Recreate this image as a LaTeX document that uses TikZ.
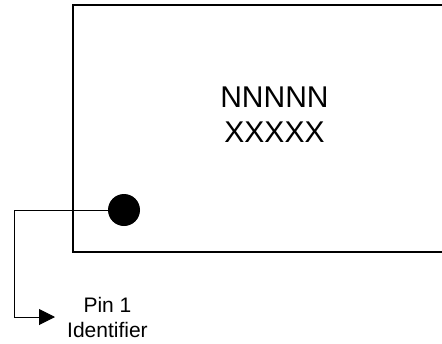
\documentclass[tikz,border=0pt]{standalone}
\usepackage{fontspec}
\setmainfont{Liberation Sans}
\usetikzlibrary{positioning, arrows.meta}

\begin{document}
\begin{tikzpicture}[x = 1pt, y = -1pt,
    every node/.style = { align = center, inner sep = 0pt },
    body/.style = { draw, line width = 2pt },
    lead/.style = { draw, line width = 1pt },
    dot/.style = { shape = circle, fill, minimum size = 32pt }]
  \useasboundingbox (0,0) rectangle (442,343);
  % package outline, open on the right
  \draw[body] (443,5) -- (73,5) -- (73,252) -- (443,252);
  \node[font = \fontsize{30}{35}\selectfont] (mark) at (274.5,114.5) { NNNNN \\ XXXXX };
  \node[dot] (pin) at (124,210) {};
  \coordinate (tip) at (55,317);
  \draw[lead, -{Triangle[length=16pt, width=16pt]}] (pin.west) -- (14,210) |- (tip);
  \node[right = 12pt of tip, font = \fontsize{21}{25}\selectfont] (label) { Pin 1 \\ Identifier };
\end{tikzpicture}
\end{document}
